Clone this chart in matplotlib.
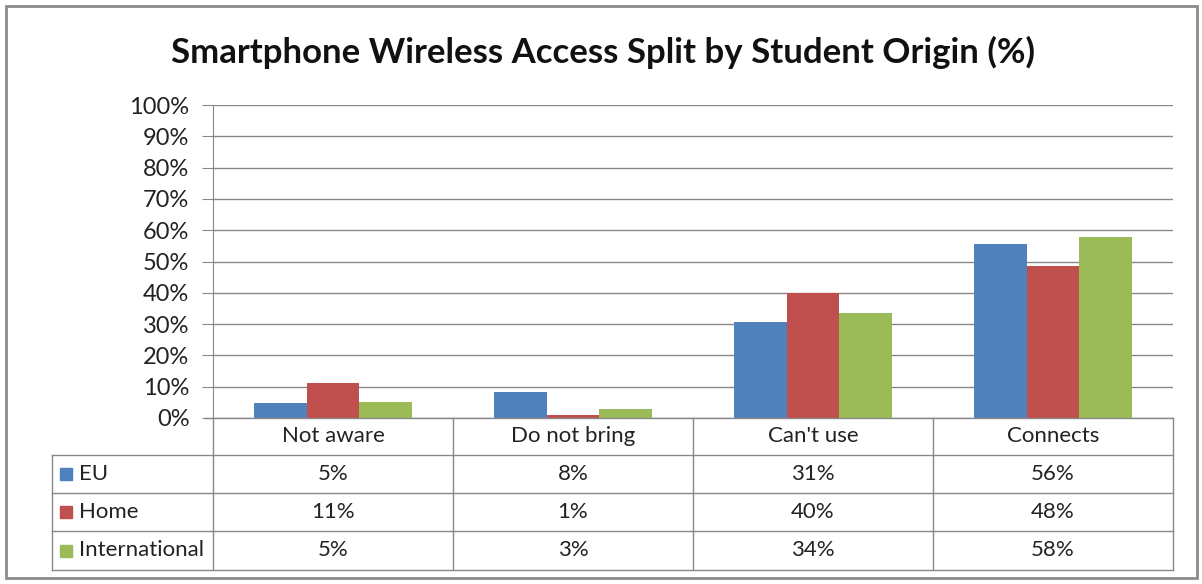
import matplotlib.pyplot as plt
from matplotlib.patches import Rectangle
from matplotlib.lines import Line2D
import numpy as np

categories = ["Not aware", "Do not bring", "Can't use", "Connects"]
series_names = ["EU", "Home", "International"]
eu = [4.8, 8.3, 30.6, 55.7]
home = [11.2, 1.0, 40.0, 48.5]
intl = [5.2, 2.9, 33.6, 57.8]
colors = ["#4F81BD", "#C0504D", "#9BBB59"]

W, H = 1202, 584
plt.rcParams['font.family'] = ['Lato', 'DejaVu Sans']
fig = plt.figure(figsize=(W / 100, H / 100), dpi=100)


def fx(px):
    return px / W


def fy(py):
    return 1 - py / H


# plot area (pixels): x 213..1173, y 105..418
left, right, top, bottom = 213, 1173, 105, 418
ax = fig.add_axes([fx(left), fy(bottom), fx(right - left), (bottom - top) / H])

values = [eu, home, intl]
x = np.arange(len(categories))
bw = 0.22
for i, (vals, c) in enumerate(zip(values, colors)):
    ax.bar(x + (i - 1) * bw, vals, width=bw, color=c, zorder=3)

ax.set_xlim(-0.5, len(categories) - 0.5)
ax.set_ylim(0, 100)
ax.set_yticks(range(0, 101, 10))
ax.set_yticklabels([f"{v}%" for v in range(0, 101, 10)], fontsize=17, color="#222222")
ax.set_xticks([])
ax.grid(axis="y", color="#888888", linewidth=1, zorder=0)
for s in ["top", "right", "bottom"]:
    ax.spines[s].set_visible(False)
ax.spines["left"].set_color("#888888")
ax.tick_params(axis="y", length=8, color="#888888", pad=9)

# data table below the plot
gray = "#888888"
row_lines = [418, 455, 493, 531, 570]
col_lines = [213, 453, 693, 933, 1173]
tab_left = 52
fs = 16


def hline(py, x0, x1):
    fig.add_artist(Line2D([fx(x0), fx(x1)], [fy(py), fy(py)], color=gray, lw=1))


def vline(px, y0, y1):
    fig.add_artist(Line2D([fx(px), fx(px)], [fy(y0), fy(y1)], color=gray, lw=1))


hline(418, 205, 1173)
for py in row_lines[1:]:
    hline(py, tab_left, 1173)
for px in col_lines:
    vline(px, 418, 570)
vline(tab_left, 455, 570)

for j, cat in enumerate(categories):
    cx = (col_lines[j] + col_lines[j + 1]) / 2
    fig.text(fx(cx), fy((row_lines[0] + row_lines[1]) / 2), cat,
             ha="center", va="center", fontsize=fs, color="#222222")

for i, (name, vals, c) in enumerate(zip(series_names, values, colors)):
    cy = (row_lines[i + 1] + row_lines[i + 2]) / 2
    fig.add_artist(Rectangle((fx(60), fy(cy + 6)), fx(12), 12 / H, color=c))
    fig.text(fx(79), fy(cy), name, ha="left", va="center", fontsize=fs, color="#222222")
    for j, v in enumerate(vals):
        cx = (col_lines[j] + col_lines[j + 1]) / 2
        fig.text(fx(cx), fy(cy), f"{v:.0f}%", ha="center", va="center",
                 fontsize=fs, color="#222222")

fig.text(fx(603), fy(52), "Smartphone Wireless Access Split by Student Origin (%)",
         ha="center", va="center", fontsize=25, fontweight="bold", color="#111111")

# outer chart border
fig.add_artist(Rectangle((fx(6), fy(578)), fx(1191), 572 / H, fill=False,
                         edgecolor="#8c8c8c", lw=2))

fig.savefig("out.png", dpi=100)
